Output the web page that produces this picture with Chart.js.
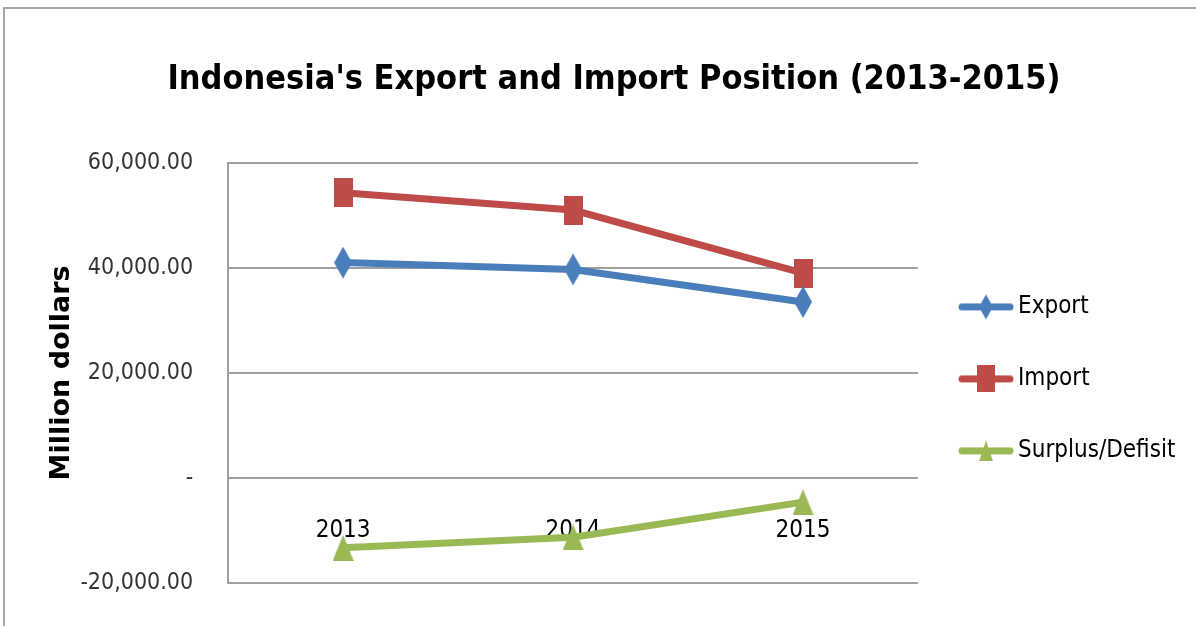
<!DOCTYPE html>
<html>
<head>
<meta charset="utf-8">
<script src="https://cdn.jsdelivr.net/npm/chart.js@4.4.0/dist/chart.umd.min.js"></script>
<style>
    html, body { margin: 0; padding: 0; background: #fff; overflow: hidden; }
    #wrap { position: relative; width: 1196px; height: 626px; }
    #frame { position: absolute; left: 3px; top: 7px; width: 1300px; height: 700px; border: 2px solid #a6a6a6; box-sizing: border-box; }
    canvas { position: absolute; left: 0; top: 0; }
</style>
</head>
<body>
<div id="wrap">
    <div id="frame"></div>
    <canvas id="trade-chart" width="1196" height="626"></canvas>
</div>
<script>
// Données (millions de dollars)
const years = ['2013', '2014', '2015'];
const exportValues = [41000, 39700, 33500];
const importValues = [54300, 51000, 39000];
const surplusValues = [-13300, -11300, -4600];
const yTickMin = -20000;
const yTickMax = 60000;
const yTickStep = 20000;

const NARROW = '"Liberation Sans Narrow", "DejaVu Sans Condensed", "Arial Narrow", sans-serif';

const colors = {
    export: '#4a7ebb',
    import: '#be4b48',
    surplus: '#98b954'
};

/**
 * Dessine un marqueur (losange, carré, triangle) dans un petit canvas
 */
function makeMarker(shape, color, w, h, lineLen) {
    const total = lineLen || w;
    const c = document.createElement('canvas');
    c.width = total;
    c.height = h;
    const g = c.getContext('2d');
    const cx = total / 2;
    const cy = h / 2;
    if (lineLen) {
        g.strokeStyle = color;
        g.lineWidth = 7;
        g.lineCap = 'round';
        g.beginPath();
        g.moveTo(4, cy);
        g.lineTo(total - 4, cy);
        g.stroke();
    }
    g.fillStyle = color;
    g.beginPath();
    if (shape === 'diamond') {
        g.moveTo(cx, cy - h / 2);
        g.lineTo(cx + w / 2, cy);
        g.lineTo(cx, cy + h / 2);
        g.lineTo(cx - w / 2, cy);
    } else if (shape === 'square') {
        g.rect(cx - w / 2, cy - h / 2, w, h);
    } else {
        g.moveTo(cx, cy - h / 2);
        g.lineTo(cx + w / 2, cy + h / 2);
        g.lineTo(cx - w / 2, cy + h / 2);
    }
    g.closePath();
    g.fill();
    return c;
}

const pointMarkers = [
    makeMarker('diamond', colors.export, 18, 32),
    makeMarker('square', colors.import, 19, 29),
    makeMarker('triangle', colors.surplus, 21, 26)
];
const legendMarkers = [
    makeMarker('diamond', colors.export, 14, 25, 56),
    makeMarker('square', colors.import, 18, 27, 56),
    makeMarker('triangle', colors.surplus, 14, 21, 56)
];

function formatTick(value) {
    if (value === 0) return '-';
    return value.toLocaleString('en-US', { minimumFractionDigits: 2, maximumFractionDigits: 2 });
}

const ctx = document.getElementById('trade-chart');

new Chart(ctx, {
    type: 'line',
    data: {
        labels: years,
        datasets: [{
            label: 'Export',
            data: exportValues,
            borderColor: colors.export,
            backgroundColor: colors.export,
            borderWidth: 7,
            pointStyle: pointMarkers[0],
            tension: 0
        }, {
            label: 'Import',
            data: importValues,
            borderColor: colors.import,
            backgroundColor: colors.import,
            borderWidth: 7,
            pointStyle: pointMarkers[1],
            tension: 0
        }, {
            label: 'Surplus/Defisit',
            data: surplusValues,
            borderColor: colors.surplus,
            backgroundColor: colors.surplus,
            borderWidth: 7,
            pointStyle: pointMarkers[2],
            tension: 0
        }]
    },
    options: {
        responsive: false,
        animation: false,
        layout: {
            padding: { top: 20, right: 14, bottom: 43, left: 46 }
        },
        plugins: {
            title: {
                display: true,
                text: "Indonesia's Export and Import Position (2013-2015)",
                color: '#000',
                font: { family: NARROW, size: 34, weight: 'bold' },
                padding: { top: 40, bottom: 62 }
            },
            legend: {
                position: 'right',
                fullSize: false,
                maxWidth: 264,
                // titre vide pour décaler les entrées vers le bas
                title: {
                    display: true,
                    text: ' ',
                    font: { size: 10 },
                    padding: 0
                },
                labels: {
                    color: '#000',
                    font: { family: NARROW, size: 24 },
                    padding: 48,
                    usePointStyle: true,
                    pointStyleWidth: 40,
                    generateLabels: function(chart) {
                        const items = Chart.defaults.plugins.legend.labels.generateLabels(chart);
                        items.forEach((item, i) => { item.pointStyle = legendMarkers[i]; });
                        return items;
                    }
                }
            },
            tooltip: { enabled: false }
        },
        scales: {
            x: {
                position: { y: 0 },
                offset: true,
                grid: { display: false, drawTicks: false },
                border: { display: false },
                ticks: {
                    color: '#000',
                    font: { family: NARROW, size: 24 },
                    padding: 38
                }
            },
            y: {
                min: yTickMin,
                max: yTickMax,
                grid: { color: '#a0a0a0', lineWidth: 2, drawTicks: true, tickLength: 35, tickColor: 'rgba(0,0,0,0)' },
                border: { display: true, color: '#a0a0a0', width: 2 },
                ticks: {
                    stepSize: yTickStep,
                    color: '#333',
                    font: { family: NARROW, size: 23 },
                    padding: 0,
                    callback: formatTick
                },
                title: {
                    display: true,
                    text: 'Million dollars',
                    color: '#000',
                    font: { family: '"DejaVu Sans", sans-serif', size: 27, weight: 'bold' },
                    padding: { top: 0, bottom: 2 }
                }
            }
        }
    }
});
</script>
</body>
</html>
